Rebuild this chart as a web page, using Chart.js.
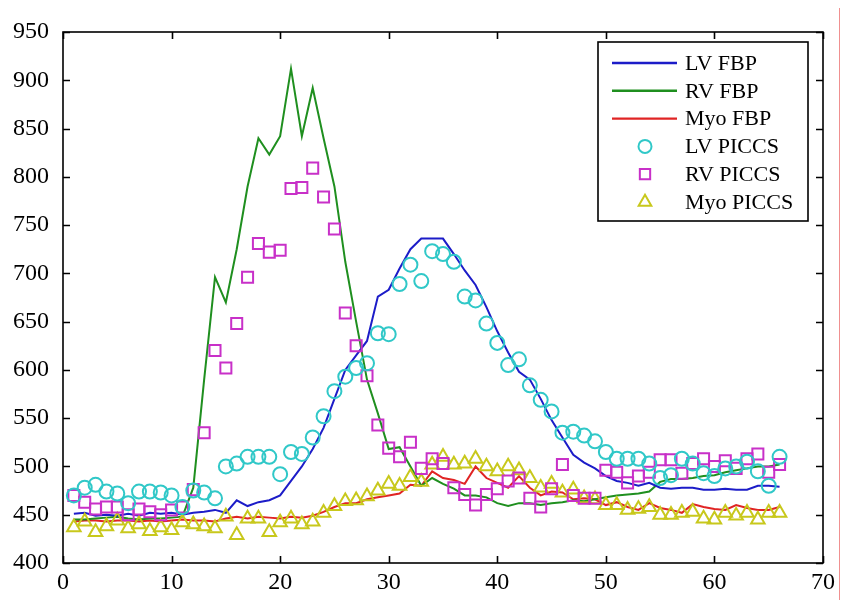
<!DOCTYPE html>
<html>
<head>
<meta charset="utf-8">
<script src="https://cdn.jsdelivr.net/npm/chart.js@4.4.1/dist/chart.umd.min.js"></script>
<style>
  body { margin: 0; background: #fff; }
  #wrap { position: relative; width: 856px; height: 600px; }
  #edge { position: absolute; left: 839px; top: 8px; width: 1px; height: 592px; background: #f09090; }
</style>
</head>
<body>
<div id="wrap">
  <canvas id="chart"></canvas>
  <div id="edge"></div>
</div>
<script>
const frames = [1, 2, 3, 4, 5, 6, 7, 8, 9, 10, 11, 12, 13, 14, 15, 16, 17, 18, 19, 20, 21, 22,
  23, 24, 25, 26, 27, 28, 29, 30, 31, 32, 33, 34, 35, 36, 37, 38, 39, 40, 41, 42, 43, 44,
  45, 46, 47, 48, 49, 50, 51, 52, 53, 54, 55, 56, 57, 58, 59, 60, 61, 62, 63, 64, 65, 66];

const xTicks = [0, 10, 20, 30, 40, 50, 60, 70];
const yTicks = [400, 450, 500, 550, 600, 650, 700, 750, 800, 850, 900, 950];

const lvFbp = [451, 452, 449, 450, 449, 451, 449, 452, 451, 452, 450, 452, 453, 455, 452, 465,
  459, 463, 465, 470, 485, 500, 518, 540, 570, 600, 615, 630, 676, 683, 705, 725, 736, 736,
  736, 720, 703, 688, 665, 640, 618, 598, 590, 570, 548, 530, 512, 504, 498, 490, 485, 483,
  480, 483, 478, 477, 478, 478, 476, 476, 477, 476, 476, 480, 480, 479];

const rvFbp = [445, 445, 446, 447, 448, 446, 445, 446, 446, 447, 448, 478, 590, 696, 670, 725,
  790, 840, 823, 842, 912, 842, 892, 840, 790, 712, 650, 590, 555, 518, 520, 500, 480, 488,
  482, 477, 470, 470, 468, 462, 459, 462, 462, 460, 462, 463, 465, 464, 466, 468, 470, 471,
  472, 474, 484, 487, 487, 488, 490, 491, 494, 496, 498, 500, 500, 502];

const myoFbp = [443, 444, 444, 443, 444, 444, 443, 444, 443, 444, 445, 444, 444, 443, 446, 448,
  446, 448, 447, 446, 448, 447, 449, 453, 458, 462, 462, 466, 468, 470, 472, 481, 480, 495,
  488, 486, 482, 500, 488, 483, 478, 490, 478, 470, 474, 473, 466, 467, 466, 460, 463, 458,
  455, 462, 457, 455, 452, 461, 458, 456, 455, 460, 457, 455, 455, 458];

const lvPiccs = [470, 478, 481, 474, 472, 462, 474, 474, 473, 470, 458, 475, 473, 467, 500, 503,
  510, 510, 510, 492, 515, 513, 530, 552, 578, 593, 602, 607, 638, 637, 689, 709, 692, 723,
  720, 712, 676, 672, 648, 628, 605, 611, 584, 569, 557, 535, 536, 532, 526, 515, 508, 508,
  508, 503, 488, 491, 508, 503, 493, 490, 498, 500, 505, 495, 480, 510];

const rvPiccs = [470, 463, 456, 458, 458, 450, 456, 453, 450, 455, 458, 476, 535, 620, 602, 648,
  696, 731, 722, 724, 788, 789, 809, 779, 746, 659, 625, 594, 543, 519, 510, 525, 498, 508,
  503, 478, 471, 460, 471, 477, 485, 488, 467, 458, 477, 502, 470, 467, 467, 496, 494, 483,
  490, 494, 507, 507, 493, 503, 508, 500, 506, 498, 508, 513, 494, 502];

const myoPiccs = [437, 443, 432, 438, 444, 436, 440, 433, 437, 434, 442, 440, 438, 436, 448, 429,
  446, 446, 432, 442, 446, 440, 443, 452, 459, 464, 465, 469, 475, 482, 480, 489, 484, 502,
  510, 502, 503, 508, 500, 495, 500, 496, 488, 478, 482, 473, 476, 467, 466, 460, 460, 455,
  456, 458, 450, 450, 452, 453, 446, 445, 452, 449, 452, 445, 452, 452];

const FONT = '"Liberation Serif", "Times New Roman", serif';

function pts(values) {
  return values.map((v, i) => ({ x: frames[i], y: v }));
}

function lineSet(label, values, color) {
  return {
    label, data: pts(values), borderColor: color, backgroundColor: color,
    borderWidth: 2, pointRadius: 0, tension: 0, fill: false, order: 1,
  };
}

function markerSet(label, values, color, style, radius) {
  return {
    label, data: pts(values), showLine: false, borderColor: color,
    backgroundColor: 'rgba(0,0,0,0)', pointStyle: style, pointRadius: radius,
    pointBorderWidth: 2, order: 0,
  };
}

// MATLAB style box with inward ticks on all four sides
const frameBox = {
  id: 'frameBox',
  afterDraw(chart) {
    const { ctx, chartArea: a, scales } = chart;
    ctx.save();
    ctx.strokeStyle = '#000';
    ctx.lineWidth = 1.6;
    ctx.strokeRect(a.left, a.top, a.right - a.left, a.bottom - a.top);
    const len = 7;
    ctx.beginPath();
    xTicks.forEach(v => {
      const x = Math.round(scales.x.getPixelForValue(v)) + 0.5;
      ctx.moveTo(x, a.bottom); ctx.lineTo(x, a.bottom - len);
      ctx.moveTo(x, a.top); ctx.lineTo(x, a.top + len);
    });
    yTicks.forEach(v => {
      const y = Math.round(scales.y.getPixelForValue(v)) + 0.5;
      ctx.moveTo(a.left, y); ctx.lineTo(a.left + len, y);
      ctx.moveTo(a.right, y); ctx.lineTo(a.right - len, y);
    });
    ctx.stroke();
    ctx.restore();
  }
};

// legend box in the top right corner
const boxLegend = {
  id: 'boxLegend',
  afterDraw(chart) {
    const { ctx, chartArea: a } = chart;
    const w = 210, h = 179;
    const left = a.right - 15 - w, top = a.top + 10;
    ctx.save();
    ctx.fillStyle = '#fff';
    ctx.fillRect(left, top, w, h);
    ctx.strokeStyle = '#000';
    ctx.lineWidth = 1.6;
    ctx.strokeRect(left, top, w, h);
    ctx.font = '22px ' + FONT;
    ctx.textBaseline = 'middle';
    chart.data.datasets.forEach((ds, i) => {
      const y = top + 21 + i * 27.8;
      if (ds.showLine === false) {
        ctx.fillStyle = 'rgba(0,0,0,0)';
        ctx.strokeStyle = ds.borderColor;
        ctx.lineWidth = ds.pointBorderWidth;
        Chart.helpers.drawPoint(ctx, {
          pointStyle: ds.pointStyle, radius: ds.pointRadius - 0.5, borderWidth: ds.pointBorderWidth,
        }, left + 47, y);
      } else {
        ctx.strokeStyle = ds.borderColor;
        ctx.lineWidth = 2.4;
        ctx.beginPath();
        ctx.moveTo(left + 14, y);
        ctx.lineTo(left + 79, y);
        ctx.stroke();
      }
      ctx.fillStyle = '#000';
      ctx.fillText(ds.label, left + 87, y + 1);
    });
    ctx.restore();
  }
};

new Chart(document.getElementById('chart'), {
  type: 'line',
  data: {
    datasets: [
      lineSet('LV FBP', lvFbp, '#1c1cc8'),
      lineSet('RV FBP', rvFbp, '#1f8f1f'),
      lineSet('Myo FBP', myoFbp, '#e02424'),
      markerSet('LV PICCS', lvPiccs, '#30c8c8', 'circle', 7),
      markerSet('RV PICCS', rvPiccs, '#c830c8', 'rect', 7.8),
      markerSet('Myo PICCS', myoPiccs, '#c8c81c', 'triangle', 7.8),
    ],
  },
  options: {
    responsive: true,
    maintainAspectRatio: false,
    animation: false,
    layout: { padding: { left: 0, right: 33, top: 32, bottom: 0 } },
    scales: {
      x: {
        type: 'linear', min: 0, max: 70,
        afterBuildTicks: s => { s.ticks = xTicks.map(v => ({ value: v })); },
        afterFit: s => { s.height = 37; },
        grid: { display: false, drawTicks: false },
        border: { display: false },
        ticks: { color: '#000', padding: 5, font: { family: FONT, size: 24 }, maxRotation: 0 },
      },
      y: {
        type: 'linear', min: 400, max: 950,
        afterBuildTicks: s => { s.ticks = yTicks.map(v => ({ value: v })); },
        afterFit: s => { s.width = 63; },
        grid: { display: false, drawTicks: false },
        border: { display: false },
        ticks: { color: '#000', padding: 14, font: { family: FONT, size: 24 } },
      },
    },
    plugins: {
      legend: { display: false },
      tooltip: { enabled: false },
    },
  },
  plugins: [frameBox, boxLegend],
});
</script>
</body>
</html>
